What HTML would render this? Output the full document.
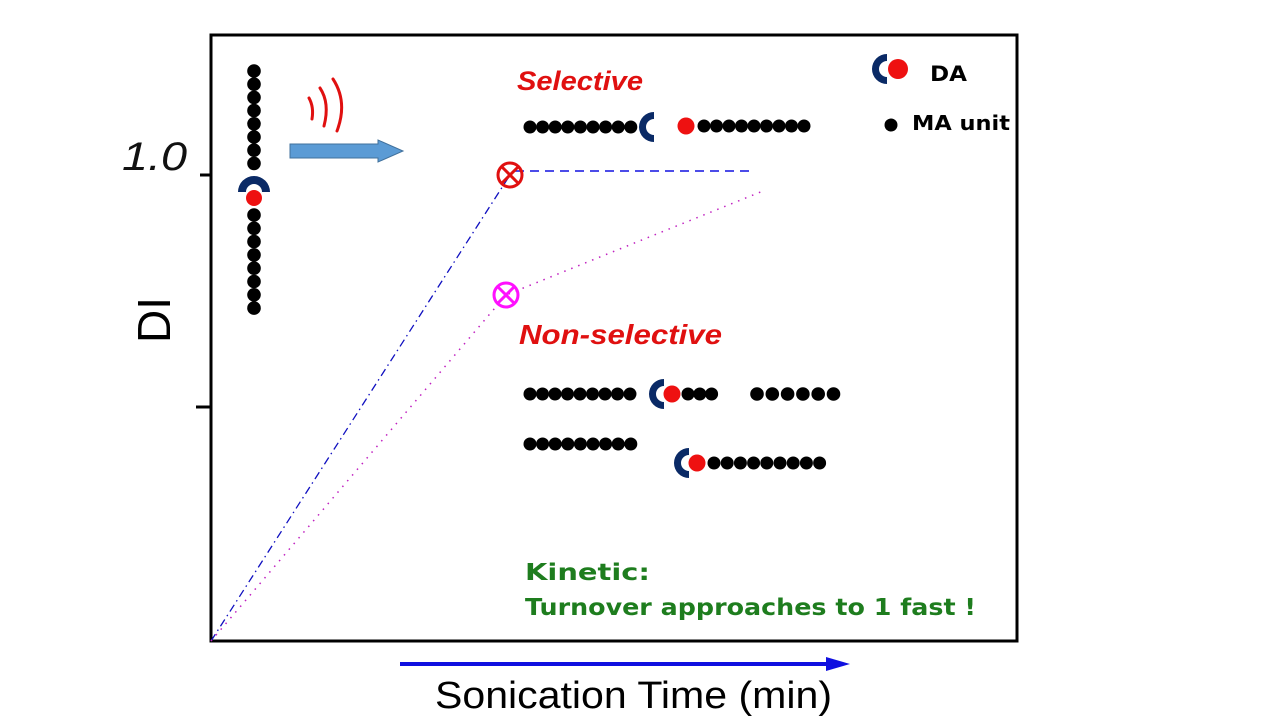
<!DOCTYPE html>
<html><head><meta charset="utf-8"><style>html,body{margin:0;padding:0;background:#fff}svg{display:block}</style></head>
<body>
<svg id="s" width="1280" height="720" viewBox="0 0 1280 720" xmlns="http://www.w3.org/2000/svg">
<rect x="211" y="35" width="806" height="606" fill="none" stroke="#000" stroke-width="3"/>
<line x1="200" y1="175" x2="211" y2="175" stroke="#000" stroke-width="3"/>
<line x1="196" y1="407" x2="211" y2="407" stroke="#000" stroke-width="3"/>
<text x="122" y="170" font-family="Liberation Sans, sans-serif" font-style="italic" font-size="40" textLength="65" lengthAdjust="spacingAndGlyphs" fill="#111">1.0</text>
<g transform="translate(170,320) rotate(-90)"><text x="0" y="0" text-anchor="middle" font-family="Liberation Sans, sans-serif" font-size="46" fill="#000">DI</text></g>
<!-- series lines -->
<polyline points="211,641 510,175" fill="none" stroke="#1010c0" stroke-width="1.3" stroke-dasharray="8,4,1.5,4"/>
<line x1="515" y1="171" x2="752" y2="171" stroke="#1010e0" stroke-width="1.5" stroke-dasharray="9,6"/>
<polyline points="211,641 506,295 763,191" fill="none" stroke="#c020c0" stroke-width="1.5" stroke-dasharray="1.5,6"/>
<g stroke="#e01010" stroke-width="3" fill="none"><circle cx="510" cy="175" r="12"/><line x1="501" y1="166" x2="519" y2="184"/><line x1="519" y1="166" x2="501" y2="184"/></g>
<g stroke="#ff10ff" stroke-width="3" fill="none"><circle cx="506" cy="295" r="12"/><line x1="497" y1="286" x2="515" y2="304"/><line x1="515" y1="286" x2="497" y2="304"/></g>
<!-- sound waves -->
<g stroke="#e01010" stroke-width="3" fill="none" stroke-linecap="round">
<path d="M309,98 Q314,107 312,119"/><path d="M320,88 Q330,103 324,126"/><path d="M333,79 Q348,102 337,131"/>
</g>
<polygon points="290,144 378,144 378,140 403,151 378,162 378,158 290,158" fill="#5b9bd5" stroke="#41719c" stroke-width="1"/>
<text x="517" y="90" font-family="Liberation Sans, sans-serif" font-style="italic" font-weight="bold" font-size="27" textLength="126" lengthAdjust="spacingAndGlyphs" fill="#e01010">Selective</text>
<text x="519" y="344" font-family="Liberation Sans, sans-serif" font-style="italic" font-weight="bold" font-size="28" textLength="203" lengthAdjust="spacingAndGlyphs" fill="#e01010">Non-selective</text>
<text x="930" y="81" font-family="DejaVu Sans, sans-serif" font-weight="bold" font-size="21" textLength="37" lengthAdjust="spacingAndGlyphs" fill="#000">DA</text>
<text x="912" y="130" font-family="DejaVu Sans, sans-serif" font-weight="bold" font-size="20" textLength="98" lengthAdjust="spacingAndGlyphs" fill="#000">MA unit</text>
<text x="525" y="580" font-family="DejaVu Sans, sans-serif" font-weight="bold" font-size="23" textLength="125" lengthAdjust="spacingAndGlyphs" fill="#1e7d1e">Kinetic:</text>
<text x="525" y="615" font-family="DejaVu Sans, sans-serif" font-weight="bold" font-size="23" textLength="451" lengthAdjust="spacingAndGlyphs" fill="#1e7d1e">Turnover approaches to 1 fast !</text>
<line x1="400" y1="664" x2="830" y2="664" stroke="#1010e0" stroke-width="4"/>
<polygon points="826,657 850,664 826,671" fill="#1010e0"/>
<text x="435" y="708" font-family="Liberation Sans, sans-serif" font-size="38" textLength="397" lengthAdjust="spacingAndGlyphs" fill="#000">Sonication Time (min)</text>
<g id="dots"></g>
</svg>
<script>
var g=document.getElementById('dots'),ns='http://www.w3.org/2000/svg';
function c(x,y,r,f){var e=document.createElementNS(ns,'circle');e.setAttribute('cx',x);e.setAttribute('cy',y);e.setAttribute('r',r);e.setAttribute('fill',f);g.appendChild(e);}
function row(x0,y,n,dx,r){for(var i=0;i<n;i++)c(x0+i*dx,y,r,'#000');}
function p(d,fill){var e=document.createElementNS(ns,'path');e.setAttribute('d',d);e.setAttribute('fill',fill||'#0a2a66');g.appendChild(e);}
function cupR(cx,cy){p('M'+(cx+4)+','+(cy-15)+' A15,15 0 0 0 '+(cx+4)+','+(cy+15)+' L'+(cx+4)+','+(cy+8)+' A8,8 0 0 1 '+(cx+4)+','+(cy-8)+' Z');}
for(var i=0;i<8;i++)c(254,71+i*13.2,6.8,'#000');
p('M238,192 A16,16 0 0 1 270,192 L262,192 A8,8 0 0 0 246,192 Z');
c(254,198,8,'#ee1111');
for(var i=0;i<8;i++)c(254,215+i*13.3,6.8,'#000');
row(530,127,9,12.6,6.5); cupR(650,127); c(686,126,8.5,'#ee1111'); row(704,126,9,12.5,6.5);
row(530,394,9,12.5,6.5); cupR(660,394); c(672,394,8.5,'#ee1111'); row(688,394,3,11.8,6.5); row(757,394,6,15.3,6.8);
row(530,444,9,12.6,6.5);
cupR(685,463); c(697,463,8.5,'#ee1111'); row(714,463,9,13.2,6.5);
cupR(883,69); c(898,69,10,'#ee1111'); c(891,125,6.5,'#000');
</script>
</body></html>
